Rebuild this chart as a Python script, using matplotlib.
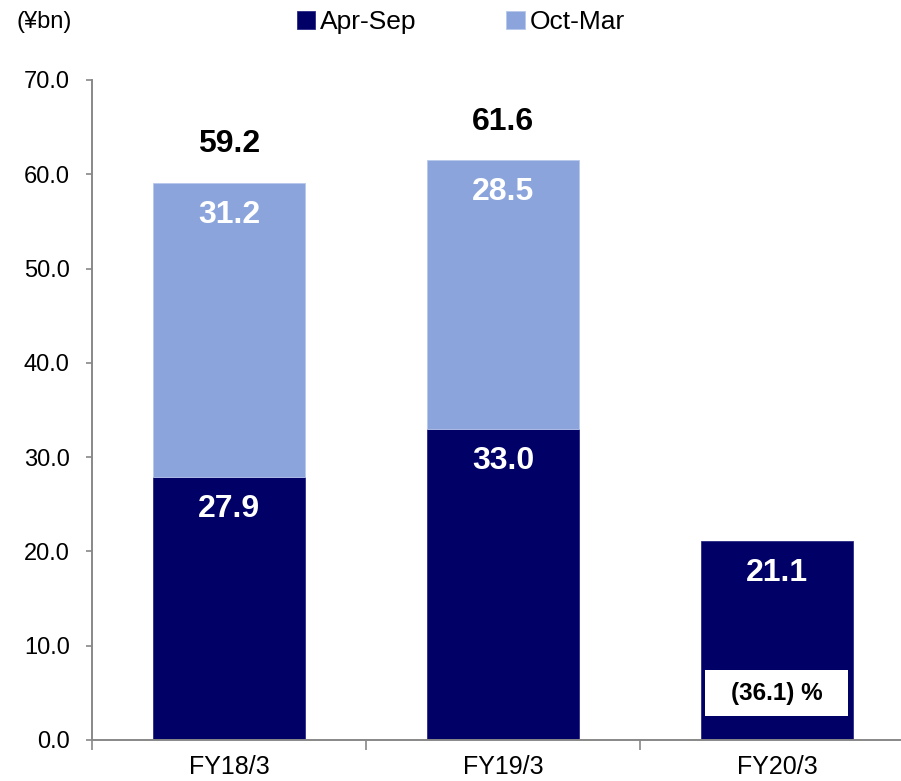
import numpy as np
import matplotlib
matplotlib.use('Agg')
from matplotlib import pyplot as plt
from matplotlib.patches import Rectangle

# half-year profit, yen billions
years = ['FY18/3', 'FY19/3', 'FY20/3']
apr_sep = [27.9, 33.0, 21.1]
oct_mar = [31.2, 28.5, None]
totals = [59.2, 61.6, None]
yoy_note = '(36.1) %'

navy = '#000066'
light = '#8BA5DC'

plt.rcParams['font.family'] = ['Liberation Sans', 'DejaVu Sans']

fig = plt.figure(figsize=(9.01, 7.81), dpi=100)
ax = fig.add_axes([92 / 901, 41 / 781, 809 / 901, 660 / 781])

x = np.arange(len(years))
w = 0.555
h1 = ax.bar(x, apr_sep, w, color=navy, edgecolor='#2a2a88', linewidth=0.6, label='Apr-Sep')
x2 = [i for i, v in zip(x, oct_mar) if v is not None]
v2 = [v for v in oct_mar if v is not None]
b2 = [apr_sep[i] for i in x2]
h2 = ax.bar(x2, v2, w, bottom=b2, color=light, edgecolor='#b8c8ec', linewidth=0.6, label='Oct-Mar')

# values written inside each segment
for i, v in enumerate(apr_sep):
    ax.annotate('%.1f' % v, (i, v), xytext=(0, -23), textcoords='offset points',
                ha='center', va='center', color='white', fontsize=23, fontweight='bold')
for i, v in zip(x2, v2):
    ax.annotate('%.1f' % v, (i, apr_sep[i] + v), xytext=(0, -23), textcoords='offset points',
                ha='center', va='center', color='white', fontsize=23, fontweight='bold')
for i, t in enumerate(totals):
    if t is None:
        continue
    ax.annotate('%.1f' % t, (i, t), xytext=(0, 27), textcoords='offset points',
                ha='center', va='center', color='black', fontsize=23, fontweight='bold')

# white box with year-on-year change on the last bar
bw = 0.522
ax.add_patch(Rectangle((2 - bw / 2, 2.55), bw, 4.87, facecolor='white', edgecolor='none', zorder=3))
ax.text(2, 4.98, yoy_note, ha='center', va='center', fontsize=17.5, fontweight='bold', zorder=4)

ax.set_ylim(0, 70)
ax.set_xlim(-0.5, 2.453)
ax.set_yticks(np.arange(0, 71, 10))
ax.set_yticklabels(['%.1f' % v for v in np.arange(0, 71, 10)], fontsize=17)
ax.set_xticks(x)
ax.set_xticklabels(years, fontsize=18)
ax.tick_params(axis='x', length=0, pad=11)
ax.set_xticks([-0.5, 0.5, 1.5], minor=True)
ax.tick_params(axis='x', which='minor', length=7, direction='out', color='#888888', width=1.2)
ax.tick_params(axis='y', length=4, direction='out', color='#888888', width=1.2, pad=12)
for s in ['top', 'right']:
    ax.spines[s].set_visible(False)
for s in ['left', 'bottom']:
    ax.spines[s].set_color('#888888')
    ax.spines[s].set_linewidth(1.4)

fig.text(17 / 901, 1 - 22 / 781, '(¥bn)', fontsize=17, va='center', ha='left')
fig.legend(handles=[h1, h2], loc='center', bbox_to_anchor=(461 / 901, 1 - 22 / 781), ncol=2,
           frameon=False, fontsize=19, handlelength=0.7, handleheight=0.7,
           handletextpad=0.2, columnspacing=3.4)

fig.savefig('out.png', dpi=100)
